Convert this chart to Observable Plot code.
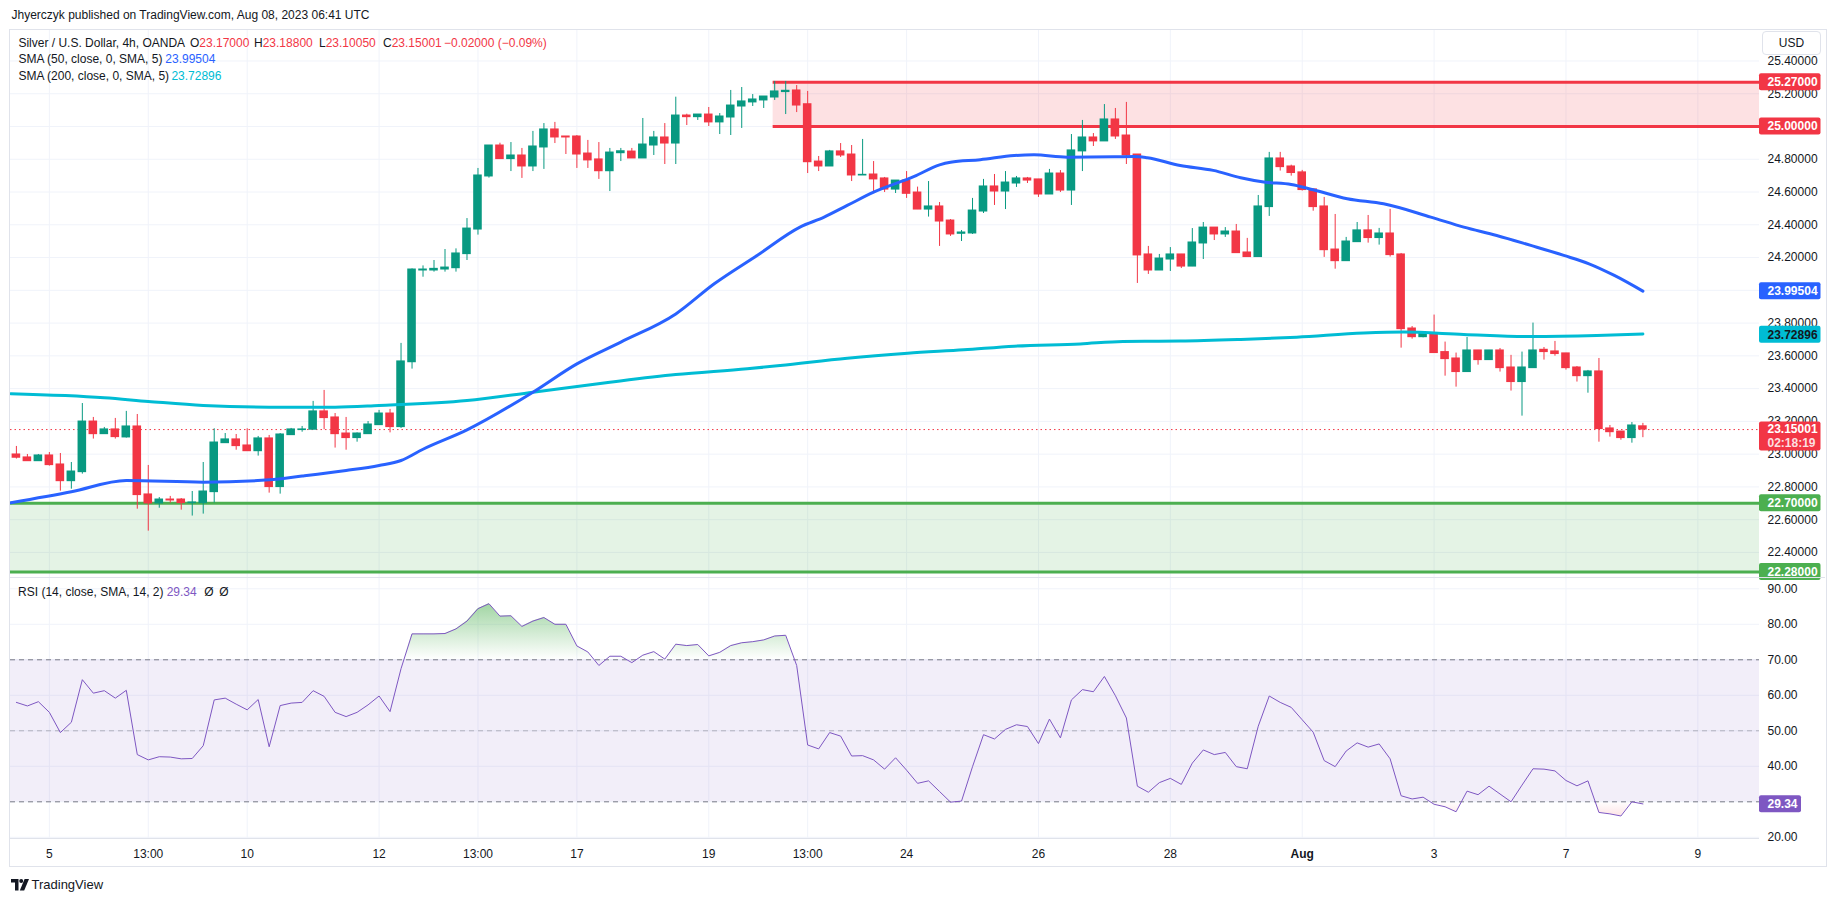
<!DOCTYPE html>
<html><head><meta charset="utf-8">
<script src="https://cdn.jsdelivr.net/npm/d3@7"></script>
<script src="https://cdn.jsdelivr.net/npm/@observablehq/plot@0.6"></script>
<style>
html,body{margin:0;padding:0;background:#fff;overflow:hidden;}
body{font-family:"Liberation Sans",Arial,sans-serif;color:#131722;}
#root{position:relative;width:1835px;height:901px;}
.t{position:absolute;white-space:nowrap;font-size:12px;line-height:14px;}
.abs{position:absolute;}
</style></head><body><div id="root"></div><script>
// ---------- DATA ----------
const candleOpen = [22.998,22.980,22.957,22.992,22.937,22.835,22.890,23.199,23.122,23.151,23.102,23.169,22.754,22.699,22.723,22.723,22.701,22.701,22.768,23.067,23.090,23.053,23.018,23.096,22.799,23.116,23.147,23.149,23.261,23.224,23.126,23.098,23.122,23.177,23.248,23.165,23.561,24.121,24.121,24.127,24.135,24.221,24.371,24.695,24.884,24.801,24.823,24.756,24.872,24.982,24.939,24.939,24.835,24.799,24.727,24.837,24.847,24.805,24.884,24.933,24.896,25.067,25.057,25.073,25.025,25.055,25.122,25.147,25.159,25.177,25.210,25.220,25.136,24.786,24.756,24.848,24.829,24.701,24.707,24.683,24.615,24.670,24.597,24.493,24.512,24.426,24.345,24.347,24.481,24.634,24.603,24.652,24.683,24.677,24.585,24.713,24.609,24.848,24.933,24.909,25.043,24.945,24.829,24.219,24.121,24.188,24.219,24.145,24.286,24.383,24.341,24.359,24.231,24.203,24.508,24.805,24.756,24.720,24.616,24.512,24.249,24.178,24.294,24.366,24.319,24.347,24.219,23.767,23.714,23.733,23.623,23.584,23.501,23.633,23.574,23.633,23.529,23.440,23.525,23.637,23.627,23.615,23.529,23.476,23.505,23.157,23.138,23.098,23.170];
const candleHigh = [23.047,22.998,22.998,23.010,23.004,22.949,23.309,23.224,23.163,23.218,23.261,23.242,22.931,22.735,22.742,22.729,22.772,22.949,23.155,23.126,23.120,23.155,23.108,23.114,23.126,23.157,23.169,23.322,23.389,23.248,23.224,23.130,23.199,23.267,23.273,23.676,24.131,24.149,24.182,24.249,24.253,24.438,24.744,24.884,24.898,24.902,24.866,24.970,25.018,25.025,24.939,24.945,24.915,24.902,24.866,24.866,24.866,25.049,24.970,25.018,25.179,25.075,25.073,25.116,25.079,25.220,25.238,25.195,25.183,25.275,25.275,25.250,25.214,24.817,24.854,24.896,24.884,24.921,24.786,24.689,24.670,24.725,24.630,24.664,24.536,24.432,24.365,24.561,24.677,24.707,24.725,24.695,24.689,24.677,24.738,24.731,24.951,25.037,24.957,25.134,25.110,25.147,24.829,24.268,24.219,24.261,24.219,24.377,24.414,24.383,24.383,24.402,24.317,24.579,24.842,24.842,24.764,24.732,24.616,24.567,24.463,24.323,24.414,24.457,24.378,24.494,24.225,23.779,23.743,23.849,23.684,23.617,23.712,23.633,23.633,23.645,23.603,23.623,23.800,23.651,23.688,23.615,23.535,23.511,23.584,23.175,23.138,23.193,23.188];
const candleLow = [22.970,22.957,22.957,22.927,22.774,22.786,22.878,23.092,23.122,23.092,23.098,22.664,22.530,22.670,22.701,22.658,22.622,22.634,22.701,23.067,23.024,23.018,22.988,22.762,22.756,23.116,23.134,23.149,23.149,23.037,23.024,23.073,23.122,23.177,23.130,23.157,23.519,24.080,24.111,24.111,24.111,24.182,24.337,24.685,24.801,24.725,24.683,24.725,24.738,24.896,24.829,24.744,24.744,24.677,24.603,24.786,24.805,24.805,24.823,24.768,24.768,25.006,25.037,25.000,24.951,24.945,24.988,25.122,25.110,25.159,25.073,25.085,24.713,24.725,24.756,24.811,24.664,24.701,24.603,24.597,24.591,24.561,24.493,24.447,24.268,24.329,24.298,24.341,24.469,24.518,24.493,24.628,24.652,24.567,24.585,24.597,24.518,24.725,24.878,24.909,24.921,24.768,24.042,24.097,24.121,24.115,24.133,24.145,24.188,24.304,24.323,24.225,24.203,24.203,24.451,24.728,24.697,24.606,24.483,24.201,24.129,24.178,24.294,24.288,24.276,24.203,23.647,23.702,23.710,23.617,23.476,23.409,23.501,23.543,23.574,23.501,23.385,23.232,23.525,23.574,23.598,23.513,23.440,23.372,23.073,23.104,23.085,23.067,23.1005];
const candleClose = [22.978,22.957,22.992,22.933,22.835,22.894,23.199,23.122,23.151,23.104,23.169,22.750,22.699,22.723,22.717,22.701,22.705,22.772,23.071,23.090,23.049,23.018,23.096,22.799,23.120,23.151,23.151,23.261,23.220,23.122,23.098,23.126,23.181,23.248,23.165,23.566,24.127,24.127,24.131,24.139,24.225,24.377,24.701,24.884,24.801,24.823,24.756,24.878,24.982,24.933,24.933,24.829,24.793,24.727,24.841,24.849,24.805,24.890,24.933,24.896,25.067,25.057,25.073,25.025,25.061,25.128,25.153,25.165,25.183,25.214,25.218,25.128,24.782,24.756,24.848,24.823,24.701,24.705,24.677,24.615,24.670,24.589,24.493,24.512,24.420,24.341,24.353,24.487,24.634,24.603,24.658,24.683,24.670,24.585,24.713,24.609,24.854,24.933,24.909,25.043,24.939,24.823,24.213,24.121,24.194,24.219,24.145,24.292,24.383,24.341,24.359,24.227,24.203,24.512,24.805,24.752,24.716,24.612,24.508,24.245,24.178,24.298,24.366,24.319,24.347,24.215,23.763,23.714,23.733,23.617,23.580,23.501,23.633,23.574,23.633,23.525,23.440,23.529,23.633,23.623,23.611,23.525,23.476,23.505,23.153,23.134,23.098,23.175,23.15001];

const sma50Index = [-0.5,5,10,17,23,26,30,33,35,37,41,47,51,55,60,63.5,67.4,71.3,73.5,75.6,78,81.7,84,85,87.7,90.8,92.6,95.6,99.9,101.7,102.9,105.9,108.9,111.4,113.5,116,118,121.1,124.4,128.7,131.7,134.7,137.8,140.8,143.1,145.4,148];
const sma50Value = [22.703,22.770,22.839,22.829,22.843,22.866,22.900,22.931,22.961,23.030,23.148,23.378,23.551,23.684,23.856,24.040,24.213,24.386,24.447,24.518,24.599,24.695,24.766,24.782,24.797,24.823,24.827,24.813,24.815,24.817,24.809,24.762,24.732,24.687,24.661,24.646,24.614,24.559,24.528,24.447,24.386,24.335,24.274,24.213,24.162,24.091,23.995];
const sma200Index = [-0.5,8,12,17,23,29,33,41,47,54,60,66.5,69.5,75.6,81.1,86.2,90.8,96.8,100.7,105.9,111.4,116.5,122.6,126.2,131.7,137.8,143.8,148];
const sma200Value = [23.368,23.344,23.322,23.297,23.287,23.287,23.297,23.327,23.378,23.439,23.486,23.521,23.541,23.586,23.616,23.637,23.659,23.673,23.688,23.690,23.700,23.714,23.739,23.745,23.731,23.718,23.724,23.733];

const rsiValue = [58.0,57.0,58.2,55.2,49.5,52.4,64.4,60.6,61.3,59.2,61.4,43.3,41.8,42.7,42.6,42.1,42.2,45.8,58.7,59.2,57.5,55.9,58.8,45.5,57.1,57.8,58.0,61.3,59.7,55.2,54.0,55.2,57.3,59.8,55.4,67.5,77.3,77.3,77.3,77.4,78.7,80.9,84.4,85.8,82.3,82.4,79.4,80.9,81.9,80.0,80.0,73.9,72.2,68.4,71.0,71.0,69.2,71.3,72.3,70.2,74.4,74.0,74.3,71.1,72.1,74.0,74.8,75.1,75.6,76.7,76.9,68.4,46.0,44.9,49.5,48.5,42.9,43.0,41.8,39.2,42.4,38.9,35.2,35.9,32.9,29.9,30.2,39.9,48.9,47.7,50.4,51.7,51.2,46.4,53.3,48.0,58.7,61.6,61.0,65.3,59.9,53.6,34.4,32.7,35.4,36.6,34.9,40.9,44.6,43.3,43.9,39.9,39.3,51.3,59.8,58.0,56.6,53.1,49.6,41.6,39.9,44.3,46.6,45.4,46.3,42.1,31.7,30.8,31.3,29.3,28.6,27.2,33.0,32.0,34.4,32.2,30.0,34.7,39.3,39.2,38.7,36.0,34.5,35.9,27.0,26.6,26.0,30.0,29.4];

const resistanceZone = [25.00, 25.27];
const resistanceStart = 68.86;
const supportZone = [22.28, 22.70];
const lastPrice = 23.15001;
const sma50Last = 23.99504, sma200Last = 23.72896, rsiLast = 29.34;

const priceTicks = [22.4,22.6,22.8,23.0,23.2,23.4,23.6,23.8,24.0,24.2,24.4,24.6,24.8,25.0,25.2,25.4];
const rsiTicks = [20,30,40,50,60,70,80,90];
const timeTickIndex = [3,12,21,33,42,51,63,72,81,93,105,117,129,141,153];
const timeTickLabel = ["5","13:00","10","12","13:00","17","19","13:00","24","26","28","Aug","3","7","9"];

// ---------- COLORS ----------
const UP = "#089981", DOWN = "#f23645", GRID = "#f0f3fa";
const FONT = "'Liberation Sans', Arial, sans-serif";

// ---------- DERIVED TABLES ----------
const candles = candleOpen.map((o, i) => ({i, o, h: candleHigh[i], l: candleLow[i], c: candleClose[i],
  col: candleClose[i] >= o ? UP : DOWN}));
const sma50 = sma50Index.map((x, k) => ({x, y: sma50Value[k]}));
const sma200 = sma200Index.map((x, k) => ({x, y: sma200Value[k]}));
const rsi = rsiValue.map((v, i) => ({i, v}));
const tickLabelOf = new Map(timeTickIndex.map((t, k) => [t, timeTickLabel[k]]));

const xDomain = [-0.537, 158.61];
const W = 1835, ML = 10, MR = 76;
const root = document.getElementById("root");

function place(el, top) {
  el.style.position = "absolute"; el.style.left = "0px"; el.style.top = top + "px";
  el.style.maxWidth = "none"; el.style.overflow = "visible";
  root.appendChild(el); return el;
}

// ---------- MAIN PANE ----------
const zoneRes = [{x1: resistanceStart, x2: xDomain[1], y1: resistanceZone[0], y2: resistanceZone[1]}];
const zoneSup = [{x1: xDomain[0], x2: xDomain[1], y1: supportZone[0], y2: supportZone[1]}];
const resLines = resistanceZone.map(y => ({x1: resistanceStart, x2: xDomain[1], y}));
const supLines = supportZone.map(y => ({x1: xDomain[0], x2: xDomain[1], y}));
const badges = [
  {v: resistanceZone[1], label: resistanceZone[1].toFixed(5), bg: DOWN, fg: "#ffffff"},
  {v: resistanceZone[0], label: resistanceZone[0].toFixed(5), bg: DOWN, fg: "#ffffff"},
  {v: sma50Last, label: sma50Last.toFixed(5), bg: "#2962ff", fg: "#ffffff"},
  {v: sma200Last, label: sma200Last.toFixed(5), bg: "#00bcd4", fg: "#131722"},
  {v: supportZone[1], label: supportZone[1].toFixed(5), bg: "#4caf50", fg: "#ffffff"},
  {v: supportZone[0], label: supportZone[0].toFixed(5), bg: "#4caf50", fg: "#ffffff"}
];
const lastBadge = [{v: lastPrice, label: lastPrice.toFixed(5), timer: "02:18:19"}];
const edge = () => xDomain[1];

const main = Plot.plot({
  width: W, height: 547, marginLeft: ML, marginRight: MR, marginTop: 0, marginBottom: 0,
  x: {domain: xDomain, axis: null},
  y: {domain: [22.247, 25.586], axis: null},
  color: {type: "identity"},
  style: {background: "transparent", overflow: "visible", fontFamily: FONT, fontSize: "12px", color: "#131722"},
  marks: [
    Plot.ruleY(priceTicks, {stroke: GRID}),
    Plot.ruleX(timeTickIndex, {stroke: GRID}),
    Plot.rect(zoneSup, {x1: "x1", x2: "x2", y1: "y1", y2: "y2", fill: "#4caf50", fillOpacity: 0.15}),
    Plot.rect(zoneRes, {x1: "x1", x2: "x2", y1: "y1", y2: "y2", fill: DOWN, fillOpacity: 0.15}),
    Plot.ruleY(supLines, {x1: "x1", x2: "x2", y: "y", stroke: "#4caf50", strokeWidth: 3}),
    Plot.ruleY(resLines, {x1: "x1", x2: "x2", y: "y", stroke: DOWN, strokeWidth: 3}),
    Plot.ruleY([lastPrice], {stroke: DOWN, strokeDasharray: "1.5,3", strokeWidth: 1}),
    Plot.ruleX(candles, {x: "i", y1: "l", y2: "h", stroke: "col", strokeWidth: 1}),
    Plot.rect(candles, {x1: d => d.i - 0.39, x2: d => d.i + 0.39, y1: "o", y2: "c", fill: "col", insetTop: -0.5, insetBottom: -0.5}),
    Plot.line(sma200, {x: "x", y: "y", stroke: "#00bcd4", strokeWidth: 3, curve: "monotone-x"}),
    Plot.line(sma50, {x: "x", y: "y", stroke: "#2962ff", strokeWidth: 3, curve: "monotone-x"}),
    Plot.axisY(priceTicks, {anchor: "right", tickSize: 0, tickPadding: 8, tickFormat: d => d.toFixed(5), label: null, fill: "#131722", fontSize: 12}),
    Plot.rect(badges, {x1: edge, x2: edge, y1: "v", y2: "v", insetRight: -61.5, insetTop: -8.5, insetBottom: -8.5, fill: "bg", rx: 2}),
    Plot.text(badges, {x: edge, y: "v", text: "label", fill: "fg", dx: 8, textAnchor: "start", fontSize: 12, fontWeight: "bold"}),
    Plot.rect(lastBadge, {x1: edge, x2: edge, y1: "v", y2: "v", insetRight: -61.5, insetTop: -7.5, insetBottom: -21.5, fill: DOWN, rx: 2}),
    Plot.text(lastBadge, {x: edge, y: "v", text: "label", fill: "#ffffff", dx: 8, textAnchor: "start", fontSize: 12, fontWeight: "bold"}),
    Plot.text(lastBadge, {x: edge, y: "v", text: "timer", fill: "#ffffff", fillOpacity: 0.85, dx: 8, dy: 14, textAnchor: "start", fontSize: 12, fontWeight: "bold"})
  ]
});
place(main, 30);

// ---------- RSI PANE ----------
const rsiBadge = [{v: rsiLast, label: rsiLast.toFixed(2)}];
const normalTicks = timeTickIndex.filter(t => tickLabelOf.get(t) !== "Aug");
const boldTicks = timeTickIndex.filter(t => tickLabelOf.get(t) === "Aug");
const rsiChart = Plot.plot({
  width: W, height: 289, marginLeft: ML, marginRight: MR, marginTop: 0, marginBottom: 27,
  x: {domain: xDomain},
  y: {domain: [19.38, 93.18]},
  color: {type: "identity"},
  style: {background: "transparent", overflow: "visible", fontFamily: FONT, fontSize: "12px", color: "#131722"},
  marks: [
    Plot.ruleY(rsiTicks, {stroke: GRID}),
    Plot.ruleX(timeTickIndex, {stroke: GRID}),
    Plot.rect([{a: 30, b: 70}], {y1: "a", y2: "b", fill: "#7e57c2", fillOpacity: 0.1}),
    Plot.areaY(rsi, {x: "i", y1: () => 50, y2: "v", fill: "url(#obGrad)"}),
    Plot.areaY(rsi, {x: "i", y1: () => 50, y2: "v", fill: "url(#osGrad)"}),
    Plot.ruleY([70, 30], {stroke: "#787b86", strokeDasharray: "5,4"}),
    Plot.ruleY([50], {stroke: "#787b86", strokeOpacity: 0.5, strokeDasharray: "5,4"}),
    Plot.line(rsi, {x: "i", y: "v", stroke: "#7e57c2", strokeWidth: 1}),
    Plot.axisY(rsiTicks, {anchor: "right", tickSize: 0, tickPadding: 8, tickFormat: d => d.toFixed(2), label: null, fill: "#131722", fontSize: 12}),
    Plot.rect(rsiBadge, {x1: edge, x2: edge, y1: "v", y2: "v", insetRight: -42, insetTop: -8.5, insetBottom: -8.5, fill: "#7e57c2", rx: 2}),
    Plot.text(rsiBadge, {x: edge, y: "v", text: "label", fill: "#ffffff", dx: 8, textAnchor: "start", fontSize: 12, fontWeight: "bold"}),
    Plot.axisX(normalTicks, {anchor: "bottom", tickSize: 0, tickPadding: 10, tickFormat: t => tickLabelOf.get(t), label: null, fill: "#131722", fontSize: 12}),
    Plot.axisX(boldTicks, {anchor: "bottom", tickSize: 0, tickPadding: 10, tickFormat: t => tickLabelOf.get(t), label: null, fill: "#131722", fontSize: 12, fontWeight: "bold"})
  ]
});
place(rsiChart, 577);
// gradients for overbought / oversold fills, positioned with the RSI y scale
{
  const ys = rsiChart.scale("y");
  const svg = d3.select(rsiChart.tagName.toLowerCase() === "svg" ? rsiChart : rsiChart.querySelector("svg"));
  const defs = svg.insert("defs", ":first-child");
  const ob = defs.append("linearGradient").attr("id", "obGrad").attr("gradientUnits", "userSpaceOnUse")
    .attr("x1", 0).attr("x2", 0).attr("y1", ys.apply(100)).attr("y2", ys.apply(70));
  ob.append("stop").attr("offset", 0).attr("stop-color", "#4caf50").attr("stop-opacity", 1);
  ob.append("stop").attr("offset", 1).attr("stop-color", "#4caf50").attr("stop-opacity", 0);
  const os = defs.append("linearGradient").attr("id", "osGrad").attr("gradientUnits", "userSpaceOnUse")
    .attr("x1", 0).attr("x2", 0).attr("y1", ys.apply(30)).attr("y2", ys.apply(0));
  os.append("stop").attr("offset", 0).attr("stop-color", DOWN).attr("stop-opacity", 0);
  os.append("stop").attr("offset", 1).attr("stop-color", DOWN).attr("stop-opacity", 1);
}

// ---------- FRAME, SEPARATORS, TEXT ----------
function box(css) { const d = document.createElement("div"); d.className = "abs"; Object.assign(d.style, css); root.appendChild(d); return d; }
box({left: "9px", top: "29px", width: "1816px", height: "836px", border: "1px solid #e0e3eb", pointerEvents: "none"});
box({left: "10px", top: "577px", width: "1815px", height: "1px", background: "#e0e3eb"});
box({left: "10px", top: "838px", width: "1749px", height: "1px", background: "#e0e3eb"});
const usd = box({left: "1762px", top: "31px", width: "57px", height: "22px", border: "1px solid #e0e3eb", borderRadius: "4px", background: "#fff",
  font: "12px " + FONT, lineHeight: "22px", textAlign: "center", color: "#131722"});
usd.textContent = "USD";

function txt(str, left, cy, color, extra) {
  const d = document.createElement("div"); d.className = "t"; d.textContent = str;
  d.style.left = left + "px"; d.style.top = (cy - 7) + "px"; d.style.color = color || "#131722";
  if (extra) Object.assign(d.style, extra);
  root.appendChild(d); return d;
}
txt("Jhyerczyk published on TradingView.com, Aug 08, 2023 06:41 UTC", 11.5, 15, "#131722");
txt("Silver / U.S. Dollar, 4h, OANDA", 18.4, 42.5);
const ohlc = [["O", candleOpen[148].toFixed(5), 190], ["H", candleHigh[148].toFixed(5), 254], ["L", candleLow[148].toFixed(5), 319], ["C", candleClose[148].toFixed(5), 383]];
ohlc.forEach(([k, v, x]) => { const d = txt(k, x, 42.5); const s = document.createElement("span"); s.style.color = DOWN; s.textContent = v; d.appendChild(s); });
txt("\u22120.02000 (\u22120.09%)", 444, 42.5, DOWN);
txt("SMA (50, close, 0, SMA, 5)", 18.4, 59.3);
txt(sma50Last.toFixed(5), 165.3, 59.3, "#2962ff");
txt("SMA (200, close, 0, SMA, 5)", 18.4, 76);
txt(sma200Last.toFixed(5), 171.4, 76, "#00bcd4");
txt("RSI (14, close, SMA, 14, 2)", 18.1, 591.7);
txt(rsiLast.toFixed(2), 166.7, 591.7, "#7e57c2");
txt("\u00d8", 204.3, 591.7, "#131722");
txt("\u00d8", 219.3, 591.7, "#131722");

// logo
const logo = document.createElementNS("http://www.w3.org/2000/svg", "svg");
logo.setAttribute("width", "18"); logo.setAttribute("height", "12");
logo.setAttribute("viewBox", "0 0 18 12");
logo.innerHTML = '<path d="M0 0h7.5v11.5H4V3.5H0z" fill="#131722"/><circle cx="10.2" cy="2" r="2" fill="#131722"/><path d="M13.6 0H18l-4.8 11.5H8.8z" fill="#131722"/>';
Object.assign(logo.style, {position: "absolute", left: "11px", top: "879px"});
root.appendChild(logo);
txt("TradingView", 31.5, 885, "#131722", {fontSize: "13px", lineHeight: "14px"});
</script></body></html>
